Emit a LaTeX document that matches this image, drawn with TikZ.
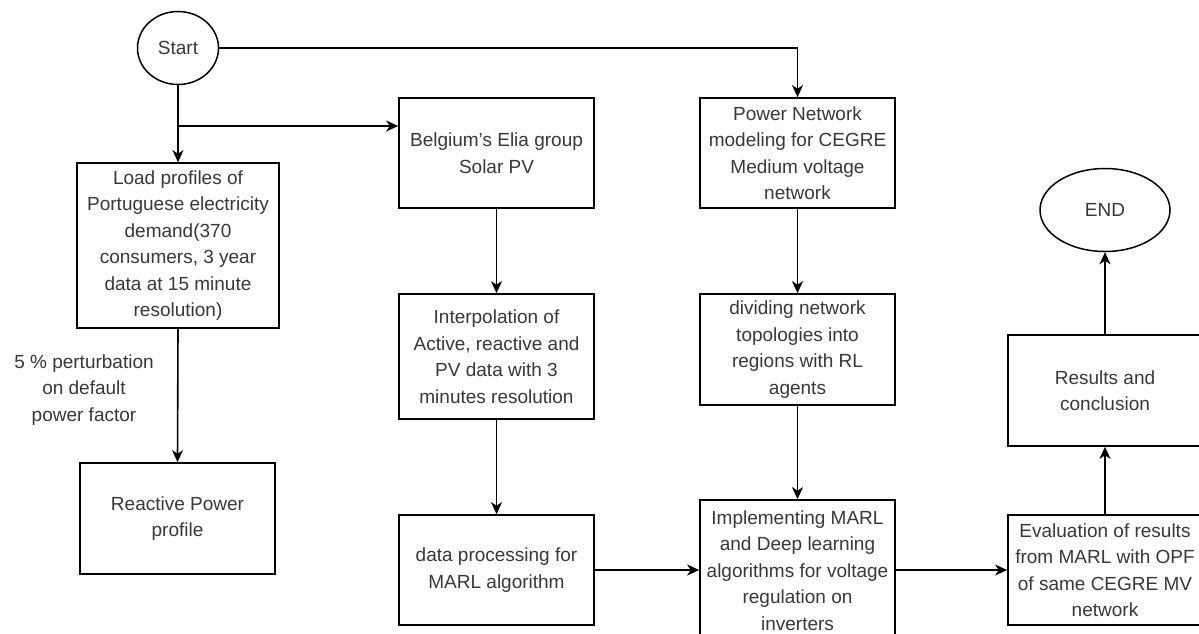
\documentclass[tikz,border=0pt]{standalone}
\usepackage{fontspec}
\setmainfont{Liberation Sans}
\usetikzlibrary{arrows.meta,shapes.geometric}
\begin{document}
\begin{tikzpicture}[x=1pt,y=-1pt,
  txt/.style={text=black!78, font=\fontsize{19}{26.5}\selectfont, align=center, inner sep=0pt},
  box/.style={txt, draw=black, line width=1.7pt, rectangle},
  oval/.style={txt, draw=black, line width=1.5pt, ellipse},
  arr/.style={draw=black, line width=1.6pt, -{Stealth[length=12pt,width=11pt,inset=3.5pt]}}]
\useasboundingbox (0,0) rectangle (1199,633);
\fill[white] (0,0) rectangle (1199,633);
\clip (0,0) rectangle (1199,633);

\node[oval, minimum width=81pt, minimum height=73pt] (start) at (178,48) {Start};
\node[oval, minimum width=130pt, minimum height=83pt] (end) at (1105,210) {END};

\node[box, minimum width=202pt, minimum height=165pt] (load) at (178,245.5)
  {Load profiles of\\Portuguese electricity\\demand(370\\consumers, 3 year\\data at 15 minute\\resolution)};
\node[box, minimum width=195pt, minimum height=111pt] (react) at (177.5,518.5)
  {Reactive Power\\profile};
\node[box, minimum width=195pt, minimum height=110pt] (belg) at (496.5,153)
  {Belgium's Elia group\\Solar PV};
\node[box, minimum width=195pt, minimum height=125pt] (interp) at (496.5,356.5)
  {Interpolation of\\Active, reactive and\\PV data with 3\\minutes resolution};
\node[box, minimum width=195pt, minimum height=110pt] (data) at (496.5,570)
  {data processing for\\MARL algorithm};
\node[box, minimum width=195pt, minimum height=110pt] (power) at (797.5,153)
  {Power Network\\modeling for CEGRE\\Medium voltage\\network};
\node[box, minimum width=195pt, minimum height=111pt] (divide) at (797.5,349.5)
  {dividing network\\topologies into\\regions with RL\\agents};
\node[box, minimum width=195pt, minimum height=141pt] (impl) at (797.5,570.5)
  {Implementing MARL\\and Deep learning\\algorithms for voltage\\regulation on\\inverters};
\node[box, minimum width=194pt, minimum height=110pt] (eval) at (1105,570)
  {Evaluation of results\\from MARL with OPF\\of same CEGRE MV\\network};
\node[box, minimum width=194pt, minimum height=111pt] (results) at (1105,390.5)
  {Results and\\conclusion};

\node[txt] (pert) at (84,390) {5 \% perturbation\\on default\\power factor};

\coordinate (br) at (178,126);
\draw[arr] (start.east) -| (power.north);
\draw[arr] (start.south) -- (load.north);
\draw[arr] (br) -- (br -| belg.west);
\draw[arr] (load.south) -- (react.north);
\draw[arr] (belg.south) -- (interp.north);
\draw[arr] (interp.south) -- (data.north);
\draw[arr] (power.south) -- (divide.north);
\draw[arr] (divide.south) -- (impl.north);
\draw[arr] (data.east) -- (data.east -| impl.west);
\draw[arr] (eval.west -| impl.east) -- (eval.west);
\draw[arr] (eval.north) -- (results.south);
\draw[arr] (results.north) -- (end.south);
\end{tikzpicture}
\end{document}
